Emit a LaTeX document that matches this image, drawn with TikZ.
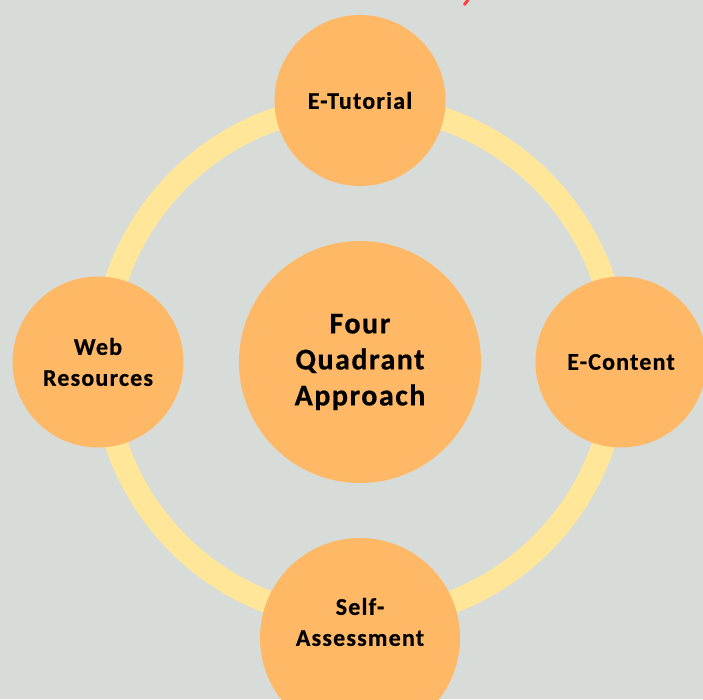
\documentclass[tikz,border=0pt]{standalone}
\usepackage{fontspec}
\setmainfont{Carlito}[BoldFeatures={LetterSpace=5,FakeBold=0.6}]
\definecolor{bg}{HTML}{D8DCD9}
\definecolor{ring}{HTML}{FFE699}
\definecolor{disc}{HTML}{FFB966}
\definecolor{redtxt}{HTML}{FF4040}
\begin{document}
\begin{tikzpicture}[x=1pt,y=1pt,
  disc/.style={circle,fill=disc,draw=none,inner sep=0pt,align=center,text=black,font=\bfseries\fontsize{24}{31}\selectfont},
  bigdisc/.style={disc,font=\bfseries\fontsize{30}{36}\selectfont},
  lbl/.style={align=center,text=black,inner sep=0pt,font=\bfseries\fontsize{24}{31}\selectfont}]
\fill[bg] (0,0) rectangle (703,699);
\useasboundingbox (0,0) rectangle (703,699);
\coordinate (c) at (360,337);
\draw[ring,line width=23pt] (c) circle[radius=257];
\node[bigdisc,minimum size=242pt] (center) at (c) {Four\\Quadrant\\Approach};
\node[disc,minimum size=171pt] (top) at (360,598.5) {E-Tutorial};
\node[disc,minimum size=171pt] (left) at (98,337) {Web\\Resources};
\node[disc,minimum size=171pt] (right) at (621,337) {E-Content};
\node[disc,minimum size=200pt] (bottom) at (360,61) {};
\node[lbl] (bottomtext) at ([yshift=16pt]bottom.center) {Self-\\Assessment};
\draw[redtxt,line width=3pt,line cap=round] (464.5,694.5) -- (468,699);
\end{tikzpicture}
\end{document}
